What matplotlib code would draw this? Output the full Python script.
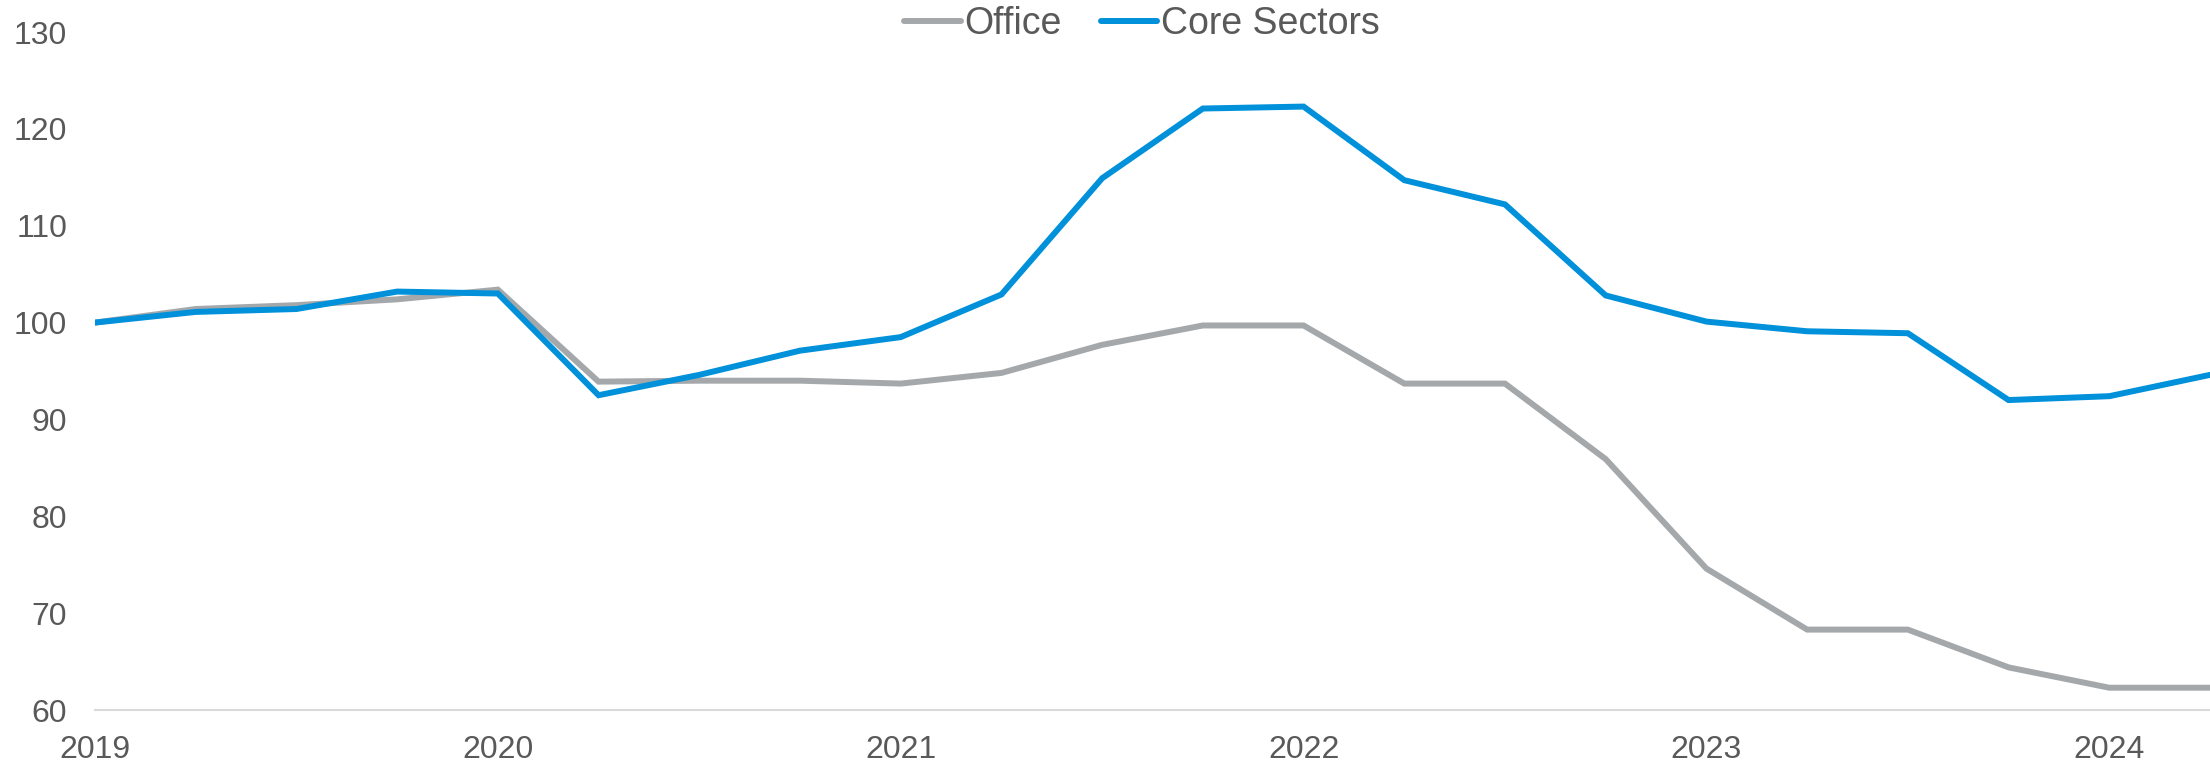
import matplotlib.pyplot as plt

plt.rcParams['font.family'] = ['Liberation Sans', 'DejaVu Sans']

# quarterly index, 2019 Q1 = 100
quarters = ['2019Q1', '2019Q2', '2019Q3', '2019Q4',
            '2020Q1', '2020Q2', '2020Q3', '2020Q4',
            '2021Q1', '2021Q2', '2021Q3', '2021Q4',
            '2022Q1', '2022Q2', '2022Q3', '2022Q4',
            '2023Q1', '2023Q2', '2023Q3', '2023Q4',
            '2024Q1', '2024Q2']
office = [100.0, 101.4, 101.8, 102.4, 103.4, 93.9, 94.0, 94.0,
          93.7, 94.8, 97.7, 99.7, 99.7, 93.7, 93.7, 85.9,
          74.6, 68.3, 68.3, 64.4, 62.3, 62.3]
core_sectors = [100.0, 101.1, 101.4, 103.2, 103.0, 92.5, 94.6, 97.1,
                98.5, 102.9, 114.9, 122.1, 122.3, 114.7, 112.2, 102.8,
                100.1, 99.1, 98.9, 92.0, 92.4, 94.6]
year_labels = ['2019', '2020', '2021', '2022', '2023', '2024']

GREY = '#A5A8AA'
BLUE = '#0091DA'
TEXT = '#595959'

fig = plt.figure(figsize=(22.1, 7.65), dpi=100)
ax = fig.add_axes([95 / 2210, 1 - 710 / 765, 1 - 95 / 2210, (710 - 32) / 765])

x = list(range(len(quarters)))
ax.plot(x, office, color=GREY, lw=4.3, label='Office', solid_joinstyle='miter')
ax.plot(x, core_sectors, color=BLUE, lw=4.3, label='Core Sectors', solid_joinstyle='miter')

ax.set_xlim(0, len(quarters) - 1)
ax.set_ylim(60, 130)
ax.set_yticks(range(60, 131, 10))
ax.set_xticks([quarters.index(y + 'Q1') for y in year_labels])
ax.set_xticklabels(year_labels)

for side in ['left', 'right', 'top']:
    ax.spines[side].set_visible(False)
ax.spines['bottom'].set_color('#D9D9D9')
ax.spines['bottom'].set_linewidth(1.5)

ax.tick_params(axis='both', length=0, labelsize=23, colors=TEXT)
ax.tick_params(axis='y', pad=20)
ax.tick_params(axis='x', pad=18)

leg = fig.legend(loc='center', bbox_to_anchor=(1142 / 2210, 1 - 24 / 765), ncol=2,
                 frameon=False, fontsize=27, labelcolor=TEXT, handlelength=1.5,
                 handletextpad=0.1, columnspacing=1.05)
for line in leg.get_lines():
    line.set_solid_capstyle('round')

fig.savefig('out.png', dpi=100)
